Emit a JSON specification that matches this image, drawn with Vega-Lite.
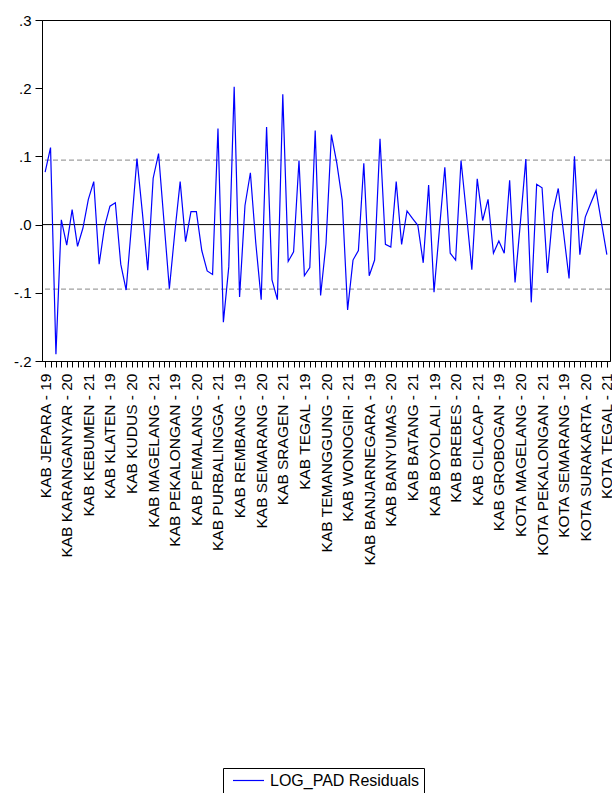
{
  "$schema": "https://vega.github.io/schema/vega-lite/v6.json",
  "autosize": "none",
  "padding": {"left": 42, "top": 20, "right": 2, "bottom": 432},
  "width": 568,
  "height": 341,
  "background": "white",
  "config": {
    "font": "Liberation Sans",
    "view": {"stroke": "black", "strokeWidth": 1}
  },
  "datasets": {
    "resid": [
      {"obs": "KAB JEPARA - 19", "resid": 0.077},
      {"obs": "KAB JEPARA - 20", "resid": 0.113},
      {"obs": "KAB JEPARA - 21", "resid": -0.190},
      {"obs": "KAB KARANGANYAR - 19", "resid": 0.007},
      {"obs": "KAB KARANGANYAR - 20", "resid": -0.030},
      {"obs": "KAB KARANGANYAR - 21", "resid": 0.022},
      {"obs": "KAB KEBUMEN - 19", "resid": -0.032},
      {"obs": "KAB KEBUMEN - 20", "resid": -0.005},
      {"obs": "KAB KEBUMEN - 21", "resid": 0.037},
      {"obs": "KAB KENDAL - 19", "resid": 0.063},
      {"obs": "KAB KENDAL - 20", "resid": -0.058},
      {"obs": "KAB KENDAL - 21", "resid": -0.003},
      {"obs": "KAB KLATEN - 19", "resid": 0.027},
      {"obs": "KAB KLATEN - 20", "resid": 0.032},
      {"obs": "KAB KLATEN - 21", "resid": -0.058},
      {"obs": "KAB KUDUS - 19", "resid": -0.096},
      {"obs": "KAB KUDUS - 20", "resid": 0.000},
      {"obs": "KAB KUDUS - 21", "resid": 0.097},
      {"obs": "KAB MAGELANG - 19", "resid": 0.018},
      {"obs": "KAB MAGELANG - 20", "resid": -0.067},
      {"obs": "KAB MAGELANG - 21", "resid": 0.068},
      {"obs": "KAB PATI - 19", "resid": 0.104},
      {"obs": "KAB PATI - 20", "resid": 0.005},
      {"obs": "KAB PATI - 21", "resid": -0.094},
      {"obs": "KAB PEKALONGAN - 19", "resid": -0.012},
      {"obs": "KAB PEKALONGAN - 20", "resid": 0.063},
      {"obs": "KAB PEKALONGAN - 21", "resid": -0.025},
      {"obs": "KAB PEMALANG - 19", "resid": 0.019},
      {"obs": "KAB PEMALANG - 20", "resid": 0.019},
      {"obs": "KAB PEMALANG - 21", "resid": -0.038},
      {"obs": "KAB PURBALINGGA - 19", "resid": -0.068},
      {"obs": "KAB PURBALINGGA - 20", "resid": -0.073},
      {"obs": "KAB PURBALINGGA - 21", "resid": 0.141},
      {"obs": "KAB PURWOREJO - 19", "resid": -0.143},
      {"obs": "KAB PURWOREJO - 20", "resid": -0.062},
      {"obs": "KAB PURWOREJO - 21", "resid": 0.202},
      {"obs": "KAB REMBANG - 19", "resid": -0.106},
      {"obs": "KAB REMBANG - 20", "resid": 0.028},
      {"obs": "KAB REMBANG - 21", "resid": 0.076},
      {"obs": "KAB SEMARANG - 19", "resid": -0.027},
      {"obs": "KAB SEMARANG - 20", "resid": -0.110},
      {"obs": "KAB SEMARANG - 21", "resid": 0.143},
      {"obs": "KAB SRAGEN - 19", "resid": -0.081},
      {"obs": "KAB SRAGEN - 20", "resid": -0.110},
      {"obs": "KAB SRAGEN - 21", "resid": 0.191},
      {"obs": "KAB SUKOHARJO - 19", "resid": -0.054},
      {"obs": "KAB SUKOHARJO - 20", "resid": -0.040},
      {"obs": "KAB SUKOHARJO - 21", "resid": 0.094},
      {"obs": "KAB TEGAL - 19", "resid": -0.075},
      {"obs": "KAB TEGAL - 20", "resid": -0.063},
      {"obs": "KAB TEGAL - 21", "resid": 0.138},
      {"obs": "KAB TEMANGGUNG - 19", "resid": -0.104},
      {"obs": "KAB TEMANGGUNG - 20", "resid": -0.028},
      {"obs": "KAB TEMANGGUNG - 21", "resid": 0.132},
      {"obs": "KAB WONOGIRI - 19", "resid": 0.090},
      {"obs": "KAB WONOGIRI - 20", "resid": 0.036},
      {"obs": "KAB WONOGIRI - 21", "resid": -0.125},
      {"obs": "KAB WONOSOBO - 19", "resid": -0.052},
      {"obs": "KAB WONOSOBO - 20", "resid": -0.038},
      {"obs": "KAB WONOSOBO - 21", "resid": 0.090},
      {"obs": "KAB BANJARNEGARA - 19", "resid": -0.075},
      {"obs": "KAB BANJARNEGARA - 20", "resid": -0.052},
      {"obs": "KAB BANJARNEGARA - 21", "resid": 0.126},
      {"obs": "KAB BANYUMAS - 19", "resid": -0.029},
      {"obs": "KAB BANYUMAS - 20", "resid": -0.033},
      {"obs": "KAB BANYUMAS - 21", "resid": 0.063},
      {"obs": "KAB BATANG - 19", "resid": -0.029},
      {"obs": "KAB BATANG - 20", "resid": 0.020},
      {"obs": "KAB BATANG - 21", "resid": 0.009},
      {"obs": "KAB BLORA - 19", "resid": -0.001},
      {"obs": "KAB BLORA - 20", "resid": -0.056},
      {"obs": "KAB BLORA - 21", "resid": 0.058},
      {"obs": "KAB BOYOLALI - 19", "resid": -0.099},
      {"obs": "KAB BOYOLALI - 20", "resid": -0.007},
      {"obs": "KAB BOYOLALI - 21", "resid": 0.084},
      {"obs": "KAB BREBES - 19", "resid": -0.042},
      {"obs": "KAB BREBES - 20", "resid": -0.052},
      {"obs": "KAB BREBES - 21", "resid": 0.094},
      {"obs": "KAB CILACAP - 19", "resid": 0.016},
      {"obs": "KAB CILACAP - 20", "resid": -0.066},
      {"obs": "KAB CILACAP - 21", "resid": 0.067},
      {"obs": "KAB DEMAK - 19", "resid": 0.006},
      {"obs": "KAB DEMAK - 20", "resid": 0.037},
      {"obs": "KAB DEMAK - 21", "resid": -0.042},
      {"obs": "KAB GROBOGAN - 19", "resid": -0.024},
      {"obs": "KAB GROBOGAN - 20", "resid": -0.042},
      {"obs": "KAB GROBOGAN - 21", "resid": 0.065},
      {"obs": "KOTA MAGELANG - 19", "resid": -0.085},
      {"obs": "KOTA MAGELANG - 20", "resid": 0.004},
      {"obs": "KOTA MAGELANG - 21", "resid": 0.096},
      {"obs": "KOTA PEKALONGAN - 19", "resid": -0.114},
      {"obs": "KOTA PEKALONGAN - 20", "resid": 0.059},
      {"obs": "KOTA PEKALONGAN - 21", "resid": 0.054},
      {"obs": "KOTA SALATIGA - 19", "resid": -0.071},
      {"obs": "KOTA SALATIGA - 20", "resid": 0.018},
      {"obs": "KOTA SALATIGA - 21", "resid": 0.053},
      {"obs": "KOTA SEMARANG - 19", "resid": -0.013},
      {"obs": "KOTA SEMARANG - 20", "resid": -0.079},
      {"obs": "KOTA SEMARANG - 21", "resid": 0.100},
      {"obs": "KOTA SURAKARTA - 19", "resid": -0.044},
      {"obs": "KOTA SURAKARTA - 20", "resid": 0.011},
      {"obs": "KOTA SURAKARTA - 21", "resid": 0.031},
      {"obs": "KOTA TEGAL - 19", "resid": 0.050},
      {"obs": "KOTA TEGAL - 20", "resid": 0.003},
      {"obs": "KOTA TEGAL - 21", "resid": -0.044}
    ],
    "bands": [
      {"level": 0.0946},
      {"level": -0.0946}
    ],
    "zero": [
      {"level": 0}
    ]
  },
  "layer": [
    {
      "data": {"name": "bands"},
      "mark": {"type": "rule", "color": "#a0a0a0", "strokeWidth": 1.3, "strokeDash": [5, 3]},
      "encoding": {
        "y": {"field": "level", "type": "quantitative", "scale": {"domain": [-0.2, 0.3], "nice": false, "zero": false}}
      }
    },
    {
      "data": {"name": "zero"},
      "mark": {"type": "rule", "color": "black", "strokeWidth": 1},
      "encoding": {
        "y": {"field": "level", "type": "quantitative"}
      }
    },
    {
      "data": {"name": "resid"},
      "mark": {"type": "line", "strokeWidth": 1.2},
      "encoding": {
        "x": {
          "field": "obs",
          "type": "ordinal",
          "sort": null,
          "scale": {"type": "point", "padding": 0.58},
          "axis": {
            "title": null,
            "domainColor": "black",
            "tickColor": "black",
            "tickSize": 6,
            "labelAngle": -90,
            "labelFontSize": 15.5,
            "labelColor": "black",
            "labelPadding": 6,
            "labelLimit": 0,
            "labelOverlap": false,
            "labelBound": false,
            "labelExpr": "round(datum.index * 104) % 4 == 0 ? datum.label : ''"
          }
        },
        "y": {
          "field": "resid",
          "type": "quantitative",
          "scale": {"domain": [-0.2, 0.3], "nice": false, "zero": false},
          "axis": {
            "title": null,
            "grid": false,
            "values": [-0.2, -0.1, 0, 0.1, 0.2, 0.3],
            "domainColor": "black",
            "tickColor": "black",
            "tickSize": 7,
            "labelFontSize": 15,
            "labelColor": "black",
            "labelPadding": 4,
            "labelExpr": "replace(replace(format(datum.value, '.1f'), '\u2212', '-'), '0.', '.')"
          }
        },
        "color": {
          "datum": "LOG_PAD Residuals",
          "type": "nominal",
          "scale": {"range": ["#0000ff"]},
          "legend": {
            "title": null,
            "orient": "none",
            "legendX": 181,
            "legendY": 748,
            "symbolType": "M-2,0L2,0",
            "symbolSize": 240,
            "symbolOffset": 13,
            "symbolStrokeWidth": 1.2,
            "labelFontSize": 16,
            "labelColor": "black",
            "labelOffset": 13,
            "padding": 4,
            "strokeColor": "black",
            "fillColor": "white"
          }
        }
      }
    }
  ]
}
